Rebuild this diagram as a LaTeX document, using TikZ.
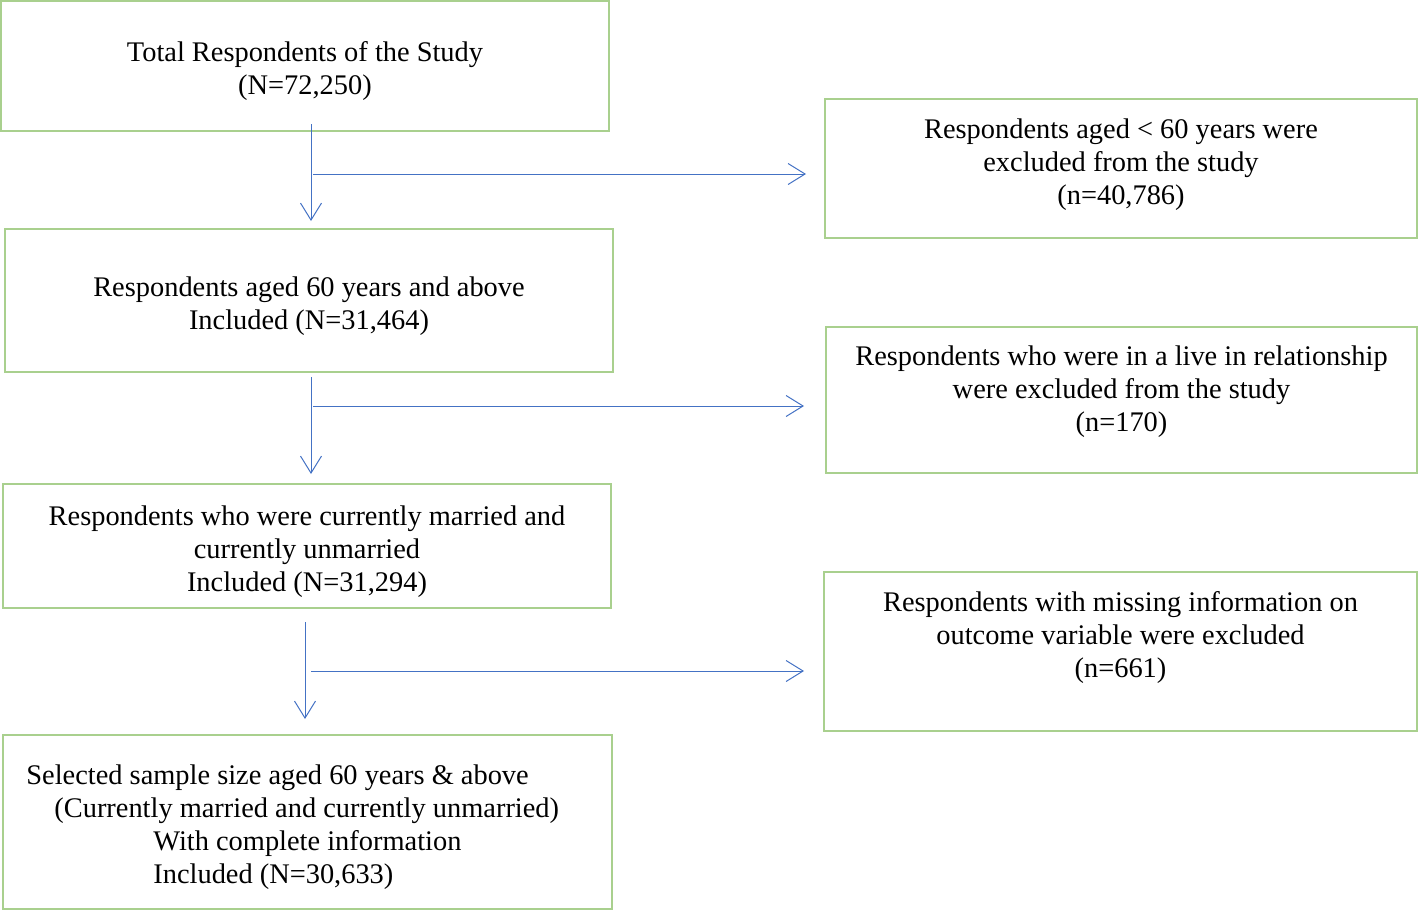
\documentclass[tikz,border=0pt]{standalone}
\usepackage{fontspec}
\setmainfont{Liberation Serif}
\usetikzlibrary{arrows.meta,positioning}
\definecolor{boxgreen}{RGB}{169,208,142}
\definecolor{arrowblue}{RGB}{68,114,196}
\tikzset{
  stagebox/.style={draw=boxgreen, line width=1pt, rectangle, inner sep=0pt},
  stagetext/.style={align=center, inner sep=0pt, font=\fontsize{14.2}{16.5}\selectfont},
  flowarrow/.style={-{Straight Barb[length=8.5pt,width=10.5pt]}, draw=arrowblue, line width=0.5pt}
}

\begin{document}
\begin{tikzpicture}[x=0.5pt, y=-0.5pt]
    \useasboundingbox (0,0) rectangle (1419,911);

    % Included samples on the left
    \node[stagebox, minimum width=304pt, minimum height=65pt] (total) at (305,66) {};
    \node[stagetext] (totaltxt) at (305,71) {Total Respondents of the Study\\(N=72,250)};
    \node[stagebox, minimum width=304pt, minimum height=71.5pt] (aged) at (309,300.5) {};
    \node[stagetext] (agedtxt) at (309,306) {Respondents aged 60 years and above\\Included (N=31,464)};
    \node[stagebox, minimum width=304pt, minimum height=62pt] (married) at (307,546) {};
    \node[stagetext] (marriedtxt) at (307,551.5) {Respondents who were currently married and\\currently unmarried\\Included (N=31,294)};
    \node[stagebox, minimum width=304.5pt, minimum height=87pt] (final) at (307.5,822) {};
    \node[stagetext, align=left, anchor=west] (finaltxt) at (26,827.5) {Selected sample size aged 60 years \& above\\
        \hspace*{14pt}(Currently married and currently unmarried)\\
        \hspace*{63.5pt}With complete information\\
        \hspace*{63.5pt}Included (N=30,633)};

    % Exclusions on the right
    \node[stagebox, minimum width=296pt, minimum height=69.5pt] (young) at (1121,168.5) {};
    \node[stagetext] (youngtxt) at (1121,164.5) {Respondents aged < 60 years were\\excluded from the study\\(n=40,786)};
    \node[stagebox, minimum width=295.5pt, minimum height=73pt] (livein) at (1121.5,400) {};
    \node[stagetext] (liveintxt) at (1121.5,392) {Respondents who were in a live in relationship\\were excluded from the study\\(n=170)};
    \node[stagebox, minimum width=296.5pt, minimum height=79.5pt] (missing) at (1120.5,651.5) {};
    \node[stagetext] (missingtxt) at (1120.5,638) {Respondents with missing information on\\outcome variable were excluded\\(n=661)};

    % Connectors
    \coordinate (down1) at (311,124);
    \coordinate (side1) at (313,174);
    \coordinate (down2) at (311,377);
    \coordinate (side2) at (313,406);
    \coordinate (down3) at (305,622);
    \coordinate (side3) at (311,671);
    \draw[flowarrow, shorten >=3.5pt] (down1) -- (down1 |- aged.north);
    \draw[flowarrow, shorten >=9pt] (side1) -- (side1 -| young.west);
    \draw[flowarrow, shorten >=4.5pt] (down2) -- (down2 |- married.north);
    \draw[flowarrow, shorten >=10.5pt] (side2) -- (side2 -| livein.west);
    \draw[flowarrow, shorten >=7.5pt] (down3) -- (down3 |- final.north);
    \draw[flowarrow, shorten >=9.5pt] (side3) -- (side3 -| missing.west);
\end{tikzpicture}
\end{document}
